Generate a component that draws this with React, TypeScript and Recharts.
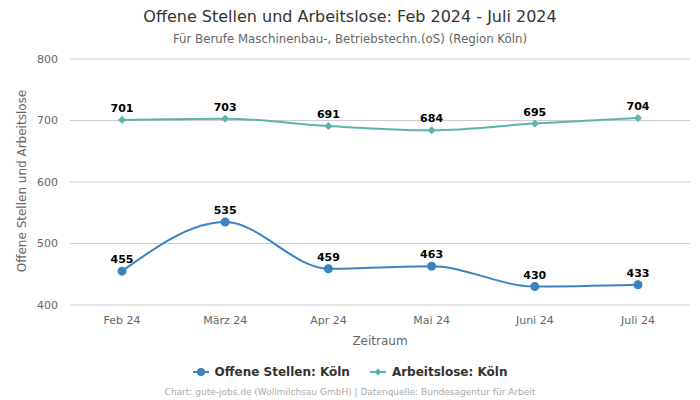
import React from "react";
import { LineChart, Line, XAxis, YAxis, CartesianGrid, LabelList } from "recharts";

const months = ["Feb 24", "März 24", "Apr 24", "Mai 24", "Juni 24", "Juli 24"];
const offeneStellen = [455, 535, 459, 463, 430, 433];
const arbeitslose = [701, 703, 691, 684, 695, 704];
const yTicks = [400, 500, 600, 700, 800];

const data = months.map((m, i) => ({ month: m, offen: offeneStellen[i], arbeitslos: arbeitslose[i] }));

const BLUE = "#3a83c0";
const TEAL = "#5bb4ab";
const FONT = "'DejaVu Sans', sans-serif";

const Diamond = (props: any) => {
  const { cx, cy } = props;
  if (cx == null || cy == null) return null;
  const r = 3.5;
  return <path d={`M${cx},${cy - r}L${cx + r},${cy}L${cx},${cy + r}L${cx - r},${cy}Z`} fill={TEAL} stroke={TEAL} strokeWidth={1} />;
};

export default function App() {
  return (
    <div style={{ position: "absolute", left: 0, top: 0, width: 700, height: 400, background: "#fff", fontFamily: FONT }}>
      <div style={{ position: "absolute", top: 7, width: 700, textAlign: "center", fontSize: 16, color: "#333" }}>
        Offene Stellen und Arbeitslose: Feb 2024 - Juli 2024
      </div>
      <div style={{ position: "absolute", top: 32, width: 700, textAlign: "center", fontSize: 11.8, color: "#666" }}>
        Für Berufe Maschinenbau-, Betriebstechn.(oS) (Region Köln)
      </div>
      <div style={{ position: "absolute", top: 0, left: 0 }}>
        <LineChart width={700} height={400} data={data} margin={{ top: 59, right: 10, bottom: 55, left: 20 }}>
          <CartesianGrid vertical={false} stroke="#cccccc" />
          <XAxis
            dataKey="month"
            padding={{ left: 52, right: 52 }}
            axisLine={false}
            tickLine={false}
            tick={{ fill: "#666", fontSize: 11, fontFamily: FONT }}
            tickMargin={5}
            height={40}
            label={{ value: "Zeitraum", position: "insideBottom", offset: 0, fill: "#666", fontSize: 12, fontFamily: FONT }}
          />
          <YAxis
            width={50}
            domain={[400, 800]}
            ticks={yTicks}
            axisLine={false}
            tickLine={false}
            tick={{ fill: "#666", fontSize: 11, fontFamily: FONT }}
            tickMargin={6}
          />
          <Line type="monotone" dataKey="offen" stroke={BLUE} strokeWidth={2} dot={{ r: 3.5, fill: BLUE, stroke: BLUE }} isAnimationActive={false}>
            <LabelList dataKey="offen" position="top" offset={8} style={{ fontWeight: "bold", fontSize: 11, fill: "#000", fontFamily: FONT }} />
          </Line>
          <Line type="monotone" dataKey="arbeitslos" stroke={TEAL} strokeWidth={2} dot={<Diamond />} isAnimationActive={false}>
            <LabelList dataKey="arbeitslos" position="top" offset={8} style={{ fontWeight: "bold", fontSize: 11, fill: "#000", fontFamily: FONT }} />
          </Line>
        </LineChart>
      </div>
      <div
        style={{
          position: "absolute",
          left: 22,
          top: 181,
          transform: "translate(-50%, -50%) rotate(-90deg)",
          whiteSpace: "nowrap",
          fontSize: 12,
          color: "#666",
        }}
      >
        Offene Stellen und Arbeitslose
      </div>
      <div style={{ position: "absolute", top: 365, width: 700, display: "flex", justifyContent: "center", gap: 20, fontSize: 12, fontWeight: "bold", color: "#333" }}>
        <span style={{ display: "flex", alignItems: "center", gap: 6 }}>
          <svg width={16} height={10}>
            <line x1={0} y1={5} x2={16} y2={5} stroke={BLUE} strokeWidth={2} />
            <circle cx={8} cy={5} r={4} fill={BLUE} />
          </svg>
          Offene Stellen: Köln
        </span>
        <span style={{ display: "flex", alignItems: "center", gap: 6 }}>
          <svg width={16} height={10}>
            <line x1={0} y1={5} x2={16} y2={5} stroke={TEAL} strokeWidth={2} />
            <path d="M8,1.5L11.5,5L8,8.5L4.5,5Z" fill={TEAL} />
          </svg>
          Arbeitslose: Köln
        </span>
      </div>
      <div style={{ position: "absolute", top: 387, width: 700, textAlign: "center", fontSize: 9, color: "#aaa" }}>
        Chart: gute-jobs.de (Wollmilchsau GmbH) | Datenquelle: Bundesagentur für Arbeit
      </div>
    </div>
  );
}
